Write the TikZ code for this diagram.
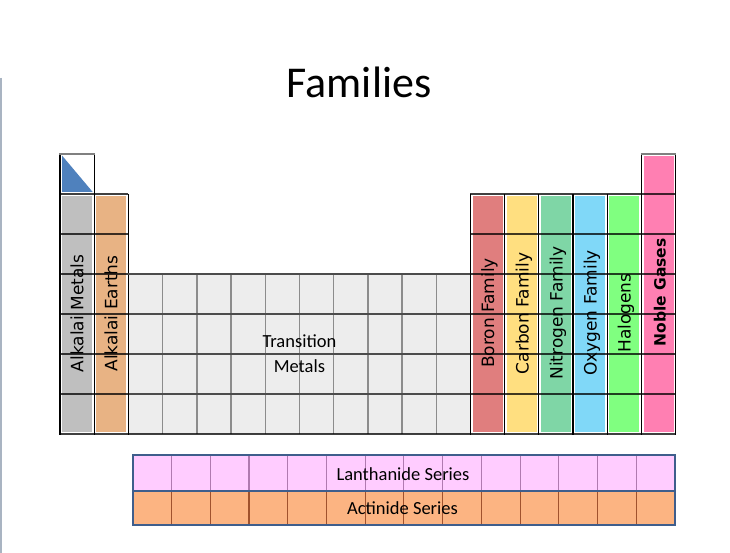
\documentclass[tikz,border=0pt]{standalone}
\usepackage{fontspec}
\setmainfont{Carlito}
\newfontfamily\vfont{DejaVu Sans}
\definecolor{cAlk}{HTML}{BFBFBF}
\definecolor{cEar}{HTML}{E8B384}
\definecolor{cBor}{HTML}{E07E7E}
\definecolor{cCar}{HTML}{FFDF80}
\definecolor{cNit}{HTML}{7FD6A6}
\definecolor{cOxy}{HTML}{80D8F8}
\definecolor{cHal}{HTML}{80FF80}
\definecolor{cNob}{HTML}{FF7FB2}
\definecolor{cTra}{HTML}{EDEDED}
\definecolor{cLan}{HTML}{FFCCFF}
\definecolor{cAct}{HTML}{FCB482}
\definecolor{cFrame}{HTML}{3F5E8C}
\definecolor{cLanLine}{HTML}{B07AB0}
\definecolor{cActLine}{HTML}{A0522D}
\definecolor{cTri}{HTML}{4F81BD}
\definecolor{cEdge}{HTML}{A9B4C2}
\begin{document}
\begin{tikzpicture}[x=1pt,y=-1pt,
  famlabel/.style={rotate=90,anchor=base,inner sep=0pt,font=\vfont\fontsize{17}{19}\selectfont},
  barfill/.style={draw=white,line width=1pt},
  gridh/.style={draw=black,opacity=0.75,line width=1.2pt},
  gridv/.style={draw=black,line width=1.2pt},
  trv/.style={draw=black!45,line width=1.4pt},
  trh/.style={draw=black!70,line width=1.2pt},
  serlabel/.style={anchor=base,inner sep=0pt,font=\fontsize{18.5}{22}\selectfont}]
\useasboundingbox (0,0) rectangle (730,553);
\fill[white] (0,0) rectangle (730,553);
% left page edge
\draw[cEdge,line width=2pt] (1,78) -- (1,553);
% title
\node (title) [anchor=base,inner sep=0pt,font=\fontsize{44}{52}\selectfont] at (359,98) {Families};
% transition metals block
\fill[cTra] (128.4,274) rectangle (470.4,434);
\foreach \x in {162.6,196.8,231,265.2,299.4,333.6,367.8,402,436.2}
  \draw[trv] (\x,274) -- (\x,434);
\foreach \y in {314,354,394}
  \draw[trh] (128.4,\y) -- (470.4,\y);
% top-left cell
\fill[white] (60,154) rectangle (94.2,194);
\fill[cTri] (62,155.5) -- (62,192) -- (92.7,192) -- cycle;
% family bars
\foreach \xa/\xb/\top/\col in {60/94.2/194/cAlk,94.2/128.4/194/cEar,470.4/504.6/194/cBor,504.6/538.8/194/cCar,538.8/573/194/cNit,573/607.2/194/cOxy,607.2/641.4/194/cHal,641.4/675.6/154/cNob}
  \filldraw[barfill,fill=\col] (\xa+1.6,\top+1.6) rectangle (\xb-1.6,432.4);
% vertical grid lines
\foreach \x in {60,94.2,641.4,675.6}
  \draw[gridv] (\x,154) -- (\x,434.6);
\foreach \x in {128.4,470.4,504.6,538.8,573,607.2}
  \draw[gridv] (\x,194) -- (\x,434.6);
% horizontal grid lines
\draw[draw=black!50,line width=2pt] (59.4,154) -- (94.8,154);
\draw[draw=black!50,line width=2pt] (640.8,154) -- (676.2,154);
\draw[gridh] (60,194) -- (128.4,194);
\draw[gridh] (470.4,194) -- (675.6,194);
\draw[gridh] (60,234) -- (128.4,234);
\draw[gridh] (470.4,234) -- (675.6,234);
\draw[gridh] (60,274) -- (128.4,274);
\draw[gridh] (470.4,274) -- (675.6,274);
\draw[trh] (128.4,274) -- (470.4,274);
\foreach \y in {314,354,394}{
  \draw[gridh] (60,\y) -- (128.4,\y);
  \draw[gridh] (470.4,\y) -- (675.6,\y);
}
\draw[gridh] (60,434) -- (675.6,434);
% family labels
\node (alk) [famlabel] at (83.3,313.5) {Alkalai Metals};
\node (ear) [famlabel] at (117.4,313.5) {Alkalai Earths};
\node (bor) [famlabel] at (494,313) {Boron Family};
\node (car) [famlabel] at (528.5,313.5) {Carbon Family};
\node (nit) [famlabel] at (562.5,313) {Nitrogen Family};
\node (oxy) [famlabel] at (596.5,313) {Oxygen Family};
\node (hal) [famlabel] at (630.5,313) {Halogens};
\node (nob) [famlabel,font=\vfont\bfseries\fontsize{15.5}{18}\selectfont] at (665.5,292.5) {Noble Gases};
% transition label
\node (tm1) [serlabel] at (299.4,347) {Transition};
\node (tm2) [serlabel] at (299.4,372) {Metals};
% lanthanide / actinide
\fill[cLan] (132.7,455) rectangle (675,490.7);
\fill[cAct] (132.7,490.7) rectangle (675,525);
\foreach \k in {1,...,13}{
  \draw[cLanLine,line width=1.2pt] (132.7+38.74*\k,455) -- (132.7+38.74*\k,490.7);
  \draw[cActLine,line width=1.2pt] (132.7+38.74*\k,490.7) -- (132.7+38.74*\k,525);
}
\draw[cFrame,line width=2pt] (132.7,490.7) -- (675,490.7);
\draw[cFrame,line width=2pt] (132.7,455) rectangle (675,525);
\node (lan) [serlabel] at (403,480) {Lanthanide Series};
\node (act) [serlabel] at (402.5,514) {Actinide Series};
\end{tikzpicture}
\end{document}
